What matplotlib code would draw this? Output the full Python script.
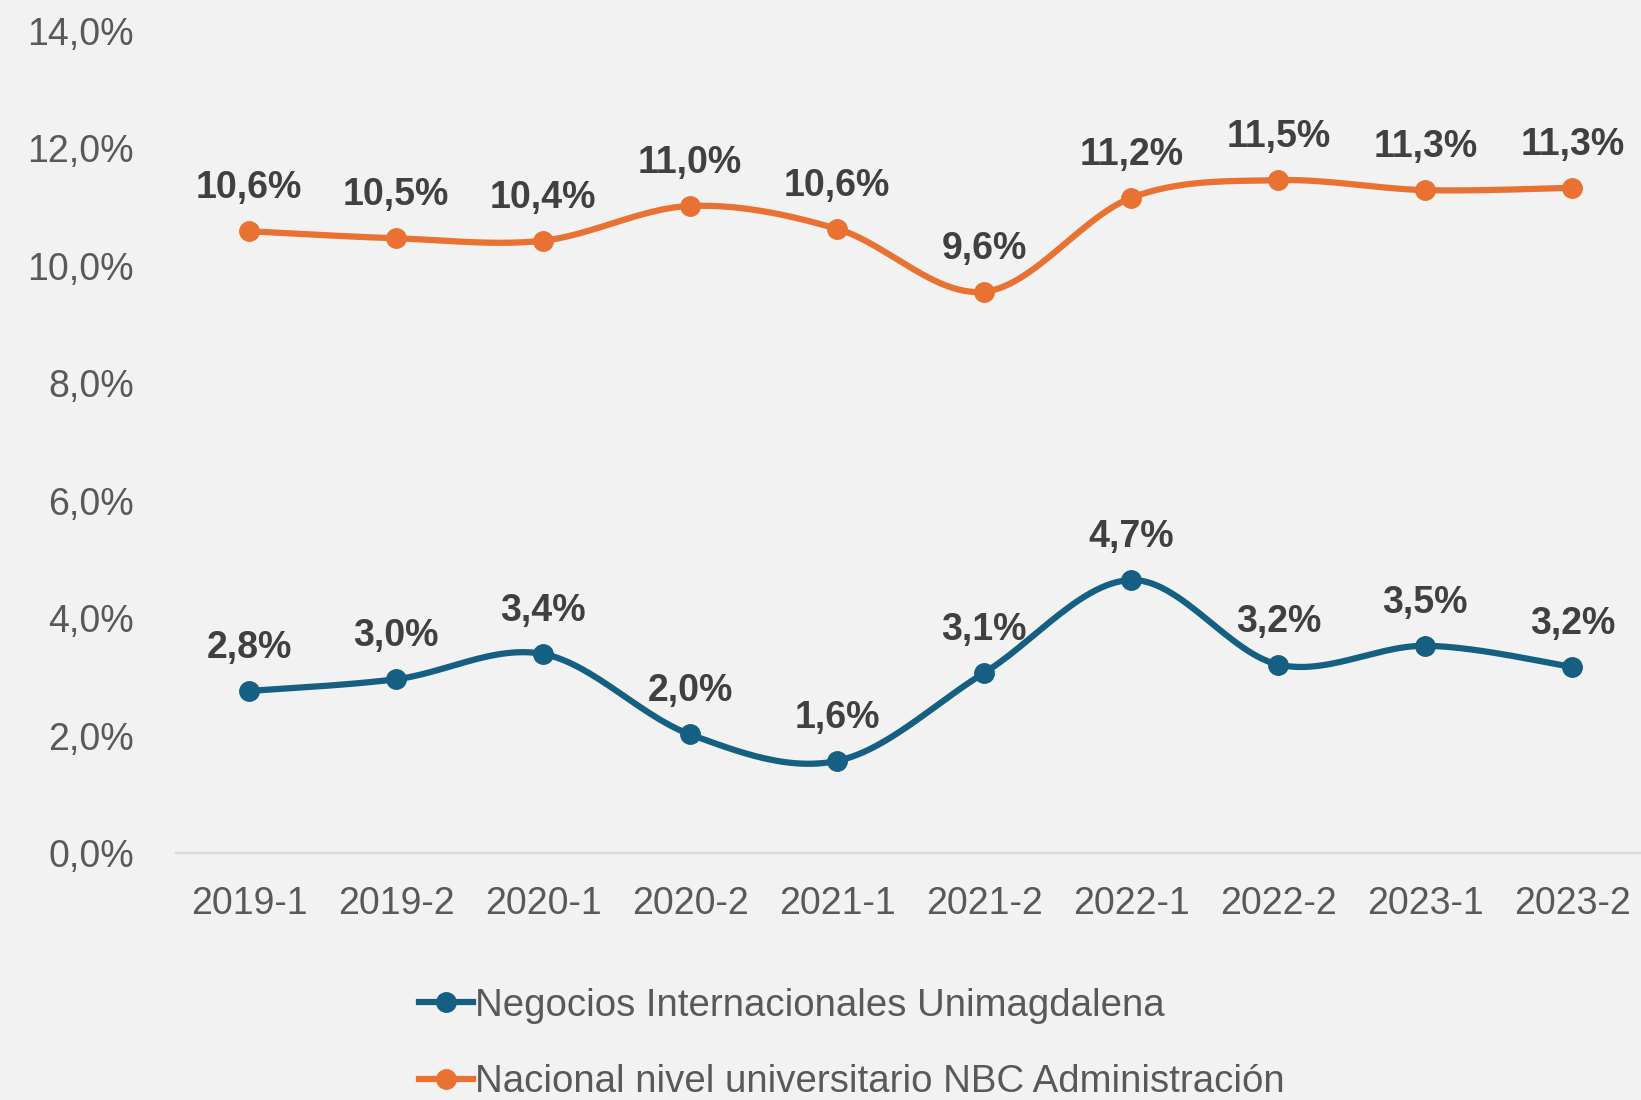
import numpy as np
import matplotlib.pyplot as plt
from matplotlib.ticker import FuncFormatter

periodos = ['2019-1', '2019-2', '2020-1', '2020-2', '2021-1',
            '2021-2', '2022-1', '2022-2', '2023-1', '2023-2']
unimagdalena = [2.76, 2.96, 3.39, 2.02, 1.57, 3.07, 4.65, 3.21, 3.53, 3.17]
nacional = [10.59, 10.47, 10.43, 11.02, 10.63, 9.56, 11.16, 11.46, 11.29, 11.33]

azul = '#156082'
naranja = '#E97132'
fondo = '#F2F2F2'
gris = '#595959'

plt.rcParams['font.family'] = ['Liberation Sans', 'DejaVu Sans']


def suavizar(x, y, n=30):
    # curva tipo Excel (Catmull-Rom) entre los puntos
    x = np.asarray(x, float)
    y = np.asarray(y, float)
    px = np.concatenate([[x[0]], x, [x[-1]]])
    py = np.concatenate([[y[0]], y, [y[-1]]])
    xs, ys = [], []
    t = np.linspace(0, 1, n)
    for i in range(1, len(px) - 2):
        for arr, out in ((px, xs), (py, ys)):
            p0, p1, p2, p3 = arr[i - 1], arr[i], arr[i + 1], arr[i + 2]
            c1 = p1 + (p2 - p0) / 6
            c2 = p2 - (p3 - p1) / 6
            out.extend((1 - t) ** 3 * p1 + 3 * (1 - t) ** 2 * t * c1
                       + 3 * (1 - t) * t ** 2 * c2 + t ** 3 * p2)
    return xs, ys


fig = plt.figure(figsize=(16.41, 11), dpi=100, facecolor=fondo)
ax = fig.add_axes([0.107, 0.2245, 0.896, 0.7473], facecolor=fondo)

x = np.arange(len(periodos))
series = [(unimagdalena, azul, 'Negocios Internacionales Unimagdalena'),
          (nacional, naranja, 'Nacional nivel universitario NBC Administración')]
handles = []
for vals, color, nombre in series:
    sx, sy = suavizar(x, vals)
    ax.plot(sx, sy, color=color, lw=4.5, solid_capstyle='round', zorder=3)
    ax.plot(x, vals, 'o', color=color, ms=14, zorder=4)
    h, = ax.plot([], [], '-o', color=color, lw=4.5, ms=14, label=nombre)
    handles.append(h)
    for xi, v in zip(x, vals):
        ax.annotate(f'{v:.1f}%'.replace('.', ','), (xi, v), xytext=(0, 31),
                    textcoords='offset points', ha='center', va='center',
                    fontsize=27, fontweight='bold', color='#404040', zorder=5)

ax.set_xlim(-0.5, len(periodos) - 0.5)
ax.set_ylim(0, 14)
ax.set_yticks(np.arange(0, 15, 2))
ax.yaxis.set_major_formatter(FuncFormatter(lambda v, p: f'{v:.1f}%'.replace('.', ',')))
ax.set_xticks(x)
ax.set_xticklabels(periodos)
ax.tick_params(axis='y', length=0, pad=30, labelsize=27, labelcolor=gris)
ax.tick_params(axis='x', length=0, pad=24, labelsize=27, labelcolor=gris)
for s in ['top', 'right', 'left']:
    ax.spines[s].set_visible(False)
ax.spines['bottom'].set_color('#D9D9D9')
ax.spines['bottom'].set_linewidth(1.5)

fig.legend(handles=handles, loc='upper left', bbox_to_anchor=(0.246, 0.116),
           frameon=False, fontsize=27.6, handlelength=1.42, handletextpad=0.05,
           labelspacing=1.05, labelcolor=gris, borderaxespad=0)

fig.savefig('out.png', dpi=100, facecolor=fondo)
